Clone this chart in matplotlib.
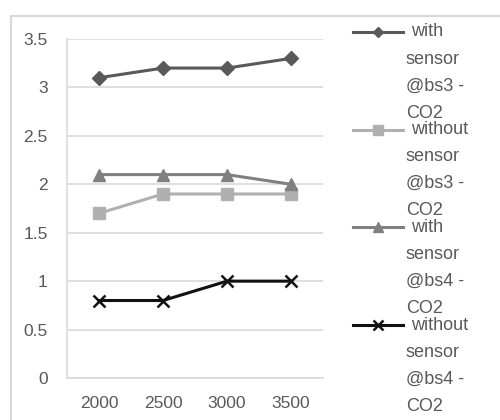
import matplotlib
matplotlib.use("Agg")
import matplotlib.pyplot as plt
from matplotlib.lines import Line2D

plt.rcParams['font.family'] = ['Liberation Sans', 'DejaVu Sans']

categories = ["2000", "2500", "3000", "3500"]
series_labels = ["with\nsensor\n@bs3 -\nCO2", "without\nsensor\n@bs3 -\nCO2",
                 "with\nsensor\n@bs4 -\nCO2", "without\nsensor\n@bs4 -\nCO2"]
with_bs3 = [3.1, 3.2, 3.2, 3.3]
without_bs3 = [1.7, 1.9, 1.9, 1.9]
with_bs4 = [2.1, 2.1, 2.1, 2.0]
without_bs4 = [0.8, 0.8, 1.0, 1.0]
yticks = [0, 0.5, 1, 1.5, 2, 2.5, 3, 3.5]
ytick_labels = ["0", "0.5", "1", "1.5", "2", "2.5", "3", "3.5"]

styles = [
    dict(color="#595959", marker="D", ms=7),
    dict(color="#b0b0b0", marker="s", ms=9),
    dict(color="#808080", marker="^", ms=9),
    dict(color="#111111", marker="x", ms=9, mew=1.8),
]
data = [with_bs3, without_bs3, with_bs4, without_bs4]

fig = plt.figure(figsize=(5, 4.2), dpi=100)
# outer chart border
fig.add_artist(Line2D([11/500, 1], [1-16/420, 1-16/420], transform=fig.transFigure, color="#d9d9d9", lw=1.5))
fig.add_artist(Line2D([11/500, 11/500], [0, 1-16/420], transform=fig.transFigure, color="#d9d9d9", lw=1.5))

ax = fig.add_axes([67/500, 42/420, 256/500, 339/420])
x = list(range(len(categories)))
for vals, st in zip(data, styles):
    ax.plot(x, vals, lw=2.2, zorder=3, **st)

ax.set_xlim(-0.5, 3.5)
ax.set_ylim(0, 3.5)
ax.set_xticks(x)
ax.set_xticklabels(categories)
ax.set_yticks(yticks)
ax.set_yticklabels(ytick_labels)
ax.grid(axis="y", color="#d9d9d9", lw=1.2)
ax.set_axisbelow(True)
for s in ["top", "right"]:
    ax.spines[s].set_visible(False)
for s in ["left", "bottom"]:
    ax.spines[s].set_color("#d9d9d9")
    ax.spines[s].set_linewidth(1.2)
ax.tick_params(length=0, labelsize=12.5, colors="#595959")
ax.tick_params(axis="x", pad=13)
ax.tick_params(axis="y", pad=14)

# legend drawn manually
for i, (lab, st) in enumerate(zip(series_labels, styles)):
    ytop = 32 + i * 97.7
    yf = 1 - ytop / 420
    fig.add_artist(Line2D([353/500, 403/500], [yf, yf], transform=fig.transFigure,
                          color=st["color"], lw=2.2))
    fig.add_artist(Line2D([378/500], [yf], transform=fig.transFigure,
                          color=st["color"], lw=0, marker=st["marker"],
                          ms=st["ms"] * 0.75, mew=st.get("mew", 1.0)))
    for j, line in enumerate(lab.split("\n")):
        xt = 411 if j == 0 else 406
        fig.text(xt/500, 1 - (ytop + j * 27) / 420, line, fontsize=13,
                 color="#595959", va="center", ha="left")

fig.savefig("out.png", dpi=100)
